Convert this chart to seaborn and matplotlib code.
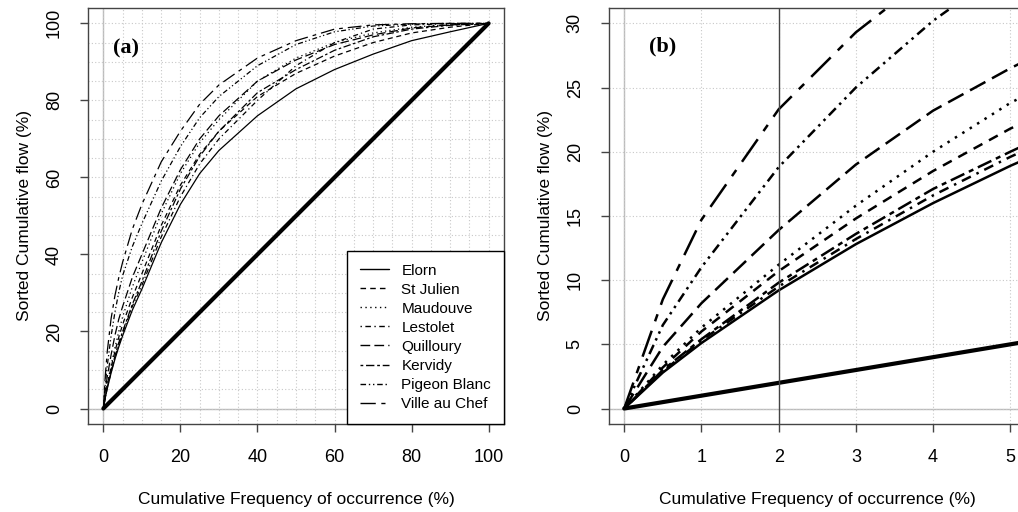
import numpy as np
import pandas as pd
import matplotlib
matplotlib.use("Agg")
import matplotlib.pyplot as plt
from matplotlib.ticker import MultipleLocator
import seaborn as sns

# cumulative frequency of occurrence (%)
freq = [0, 0.5, 1, 2, 3, 4, 5, 7.5, 10, 15, 20, 25, 30, 40, 50, 60, 70, 80, 90, 100]

# sorted cumulative flow (%) for each river
elorn = [0, 2.8, 5.1, 9.2, 12.8, 16.0, 18.9, 25.5, 31, 43, 53, 61, 67, 76, 83, 88, 92, 95.5, 97.8, 100]
st_julien = [0, 3.2, 6.0, 10.7, 14.8, 18.5, 21.8, 28.8, 35, 47.5, 58, 66, 72, 81, 87, 91.5, 95, 97.5, 99, 100]
maudouve = [0, 3.4, 6.3, 11.2, 15.8, 20.0, 23.8, 31.5, 38, 50.5, 61, 69, 75, 85, 91, 95, 97.5, 99, 99.7, 100]
lestolet = [0, 2.9, 5.3, 9.5, 13.2, 16.6, 19.6, 26.5, 32, 44.5, 55, 63.5, 70, 80, 89, 95, 98.5, 99.6, 99.9, 100]
quilloury = [0, 4.8, 8.2, 13.9, 19.0, 23.2, 26.5, 34, 40, 52, 62, 70, 76, 85, 90.5, 94.5, 97, 98.8, 99.6, 100]
kervidy = [0, 3.0, 5.4, 9.8, 13.6, 17.1, 20.0, 27, 33, 46, 57, 65.5, 72, 82, 88, 93, 96.5, 98.5, 99.5, 100]
pigeon_blanc = [0, 6.5, 11.0, 18.8, 25.0, 30.2, 34.5, 42, 48, 59, 68, 75.5, 81, 89, 94.5, 97.8, 99.3, 99.8, 100, 100]
ville_au_chef = [0, 8.5, 14.7, 23.3, 29.3, 34, 38, 46.5, 53, 64, 72, 79, 84, 91, 95.5, 98.5, 99.6, 99.9, 100, 100]

rivers = ["Elorn", "St Julien", "Maudouve", "Lestolet", "Quilloury", "Kervidy", "Pigeon Blanc", "Ville au Chef"]
flows = [elorn, st_julien, maudouve, lestolet, quilloury, kervidy, pigeon_blanc, ville_au_chef]

# uniform (1:1) reference line
uniform = [0, 100]

styles = ["-", (0, (4, 3)), (0, (1, 2.5)), (0, (1, 2.5, 4, 2.5)),
          (0, (7, 3)), (0, (2, 2, 6, 2)), (0, (4, 2, 1, 2, 1, 2)), (0, (11, 4, 3, 4))]

df = pd.concat([pd.DataFrame({"freq": freq, "flow": f, "river": r}) for r, f in zip(rivers, flows)])

sns.set_theme(style="white")
plt.rcParams["font.family"] = ["Liberation Sans", "DejaVu Sans"]
plt.rcParams["text.color"] = "black"
plt.rcParams["axes.labelcolor"] = "black"
plt.rcParams["xtick.labelcolor"] = "black"
plt.rcParams["ytick.labelcolor"] = "black"

fig = plt.figure(figsize=(10.18, 5.12), dpi=100)
ax_a = fig.add_axes([0.0864, 0.172, 0.4087, 0.8125])
ax_b = fig.add_axes([0.598, 0.172, 0.4096, 0.8125])

grid_kw = dict(color="#c8c8c8", linestyle=(0, (1, 2)), linewidth=0.8)


def draw(ax, lw, lw_ref, show_label):
    for r, ls in zip(rivers, styles):
        sub = df[df["river"] == r]
        kw = dict(label=r) if show_label else {}
        sns.lineplot(data=sub, x="freq", y="flow", color="black", lw=lw, linestyle=ls,
                     estimator=None, sort=False, ax=ax, legend=False, **kw)
    sns.lineplot(x=uniform, y=uniform, color="black", lw=lw_ref, ax=ax, legend=False)
    ax.axhline(0, color="#bbbbbb", lw=1, zorder=0)
    ax.axvline(0, color="#bbbbbb", lw=1, zorder=0)
    for s in ax.spines.values():
        s.set_color("#444444")
        s.set_linewidth(1)
    ax.tick_params(axis="both", which="major", direction="out", length=6, width=1,
                   color="#444444", labelsize=13, bottom=True, left=True)
    ax.tick_params(axis="x", pad=12)
    ax.tick_params(axis="y", pad=12)
    ax.tick_params(which="minor", length=0)
    ax.set_xlabel("Cumulative Frequency of occurrence (%)", fontsize=12.5, labelpad=19)
    ax.set_ylabel("Sorted Cumulative flow (%)", fontsize=12.5, labelpad=10)


# panel (a)
draw(ax_a, 0.9, 3, True)
ax_a.set_xlim(-4, 104)
ax_a.set_ylim(-4, 104)
ax_a.xaxis.set_major_locator(MultipleLocator(20))
ax_a.yaxis.set_major_locator(MultipleLocator(20))
ax_a.xaxis.set_minor_locator(MultipleLocator(5))
ax_a.yaxis.set_minor_locator(MultipleLocator(5))
ax_a.grid(which="both", **grid_kw)
ax_a.set_axisbelow(True)
plt.setp(ax_a.get_yticklabels(), rotation=90, va="center")
ax_a.text(6, 93.5, "(a)", family="Liberation Serif", fontweight="bold", fontsize=16,
          ha="center", va="center")
leg = ax_a.legend(loc="lower right", borderaxespad=0, fontsize=11, handlelength=1.9,
                  handletextpad=0.8, labelspacing=0.33, borderpad=0.85, fancybox=False,
                  edgecolor="black", framealpha=1)
leg.get_frame().set_linewidth(1)
for line in leg.get_lines():
    line.set_linewidth(1)

# panel (b)
draw(ax_b, 1.8, 3, False)
ax_b.set_xlim(-0.2, 5.2)
ax_b.set_ylim(-1.2, 31.2)
ax_b.xaxis.set_major_locator(MultipleLocator(1))
ax_b.yaxis.set_major_locator(MultipleLocator(5))
ax_b.grid(which="major", **grid_kw)
ax_b.set_axisbelow(True)
ax_b.axvline(2, color="#444444", lw=1)
plt.setp(ax_b.get_yticklabels(), rotation=90, va="center")
ax_b.text(0.5, 28.2, "(b)", family="Liberation Serif", fontweight="bold", fontsize=16,
          ha="center", va="center")

fig.savefig("out.png", dpi=100)
